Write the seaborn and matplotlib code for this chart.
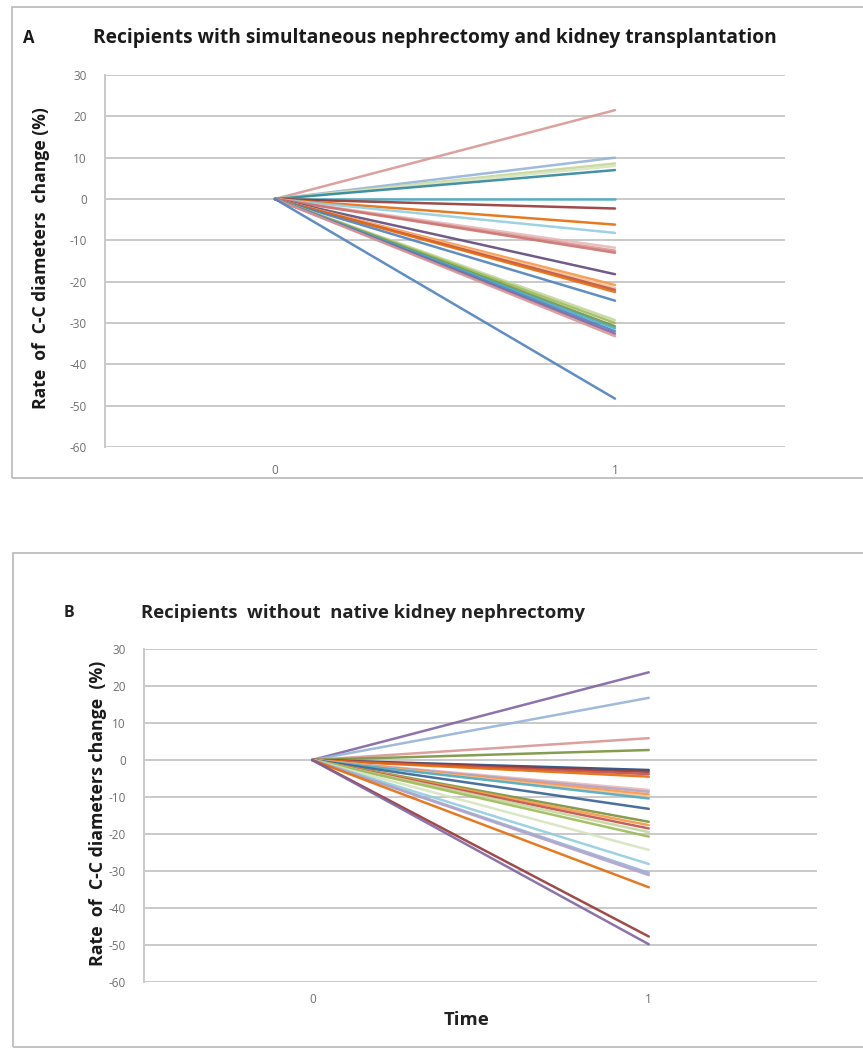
import matplotlib
matplotlib.use("Agg")
import matplotlib.pyplot as plt
import seaborn as sns
import pandas as pd
from matplotlib.patches import Rectangle

# ---------------- data ----------------
time_points = [0, 1]
time_labels = ["0", "1"]
y_ticks = [30, 20, 10, 0, -10, -20, -30, -40, -50, -60]

# Panel A: recipients with simultaneous nephrectomy and kidney transplantation
a_time0 = [0, 0, 0, 0, 0, 0, 0, 0, 0, 0, 0, 0, 0,
           0, 0, 0, 0, 0, 0, 0, 0, 0, 0, 0, 0, 0]
a_time1 = [21.5, 10.0, 8.6, 8.0, 7.0, 0.0, -2.3, -6.2, -8.2, -11.8, -12.5, -13.0, -18.2,
           -20.8, -21.5, -22.0, -22.5, -24.6, -29.3, -30.0, -30.8, -31.3, -32.0, -32.6, -33.2, -48.3]
a_colors = ["#D99795", "#95B3D7", "#C3D69B", "#D7E4BD", "#31859C", "#4BACC6", "#953735",
            "#E46C0A", "#93CDDD", "#E6B9B8", "#D99694", "#CD7371", "#604A7B",
            "#F79646", "#FAC090", "#C0504D", "#E46C0A", "#4F81BD", "#C3D69B", "#9BBB59",
            "#77933C", "#4BACC6", "#4F81BD", "#8064A2", "#D99694", "#4F81BD"]

# Panel B: recipients without native kidney nephrectomy
b_time0 = [0, 0, 0, 0, 0, 0, 0, 0, 0, 0, 0, 0, 0,
           0, 0, 0, 0, 0, 0, 0, 0, 0, 0, 0, 0, 0]
b_time1 = [23.7, 16.8, 5.9, 2.7, -2.7, -3.2, -3.8, -4.5, -8.1, -8.6, -9.3, -9.9, -10.4,
           -13.2, -16.7, -17.6, -18.5, -19.5, -20.7, -24.3, -28.1, -30.5, -31.1, -34.4, -47.7, -49.8]
b_colors = ["#8064A2", "#95B3D7", "#D99694", "#77933C", "#1F497D", "#953735", "#C0504D",
            "#E46C0A", "#E6B9B8", "#B3A2C7", "#F79646", "#FAC090", "#4BACC6",
            "#376092", "#77933C", "#F79646", "#C0504D", "#C3D69B", "#9BBB59", "#D7E4BD",
            "#93CDDD", "#95B3D7", "#B3A2C7", "#E46C0A", "#953735", "#8064A2"]

title_a = "Recipients with simultaneous nephrectomy and kidney transplantation"
title_b = "Recipients  without  native kidney nephrectomy"
ylabel_a = "Rate  of  C-C diameters  change (%)"
ylabel_b = "Rate  of  C-C diameters change  (%)"
xlabel_b = "Time"


def long_frame(t0, t1):
    rows = []
    for i, (v0, v1) in enumerate(zip(t0, t1)):
        rows.append({"series": f"s{i}", "time": time_points[0], "value": v0})
        rows.append({"series": f"s{i}", "time": time_points[1], "value": v1})
    return pd.DataFrame(rows)


df_a = long_frame(a_time0, a_time1)
df_b = long_frame(b_time0, b_time1)

# ---------------- style ----------------
sns.set_theme(style="white")
plt.rcParams["font.family"] = ["Open Sans", "DejaVu Sans"]

W, H = 863, 1049
fig = plt.figure(figsize=(W / 100, H / 100), dpi=100)

GRID = "#C9C9C9"
TICK = "#707070"
TXT = "#1A1A1A"


def px_axes(left, right, top, bottom):
    return fig.add_axes([left / W, 1 - bottom / H, (right - left) / W, (bottom - top) / H])


def style_axes(ax, df, colors, ypad, xpad, tsize):
    order = [f"s{i}" for i in range(len(colors))]
    sns.lineplot(data=df, x="time", y="value", hue="series", hue_order=order,
                 palette=colors, legend=False, linewidth=1.8, alpha=0.9, ax=ax, zorder=3)
    ax.set_xlim(-0.5, 1.5)
    ax.set_ylim(-60, 30)
    ax.set_yticks(y_ticks)
    ax.set_yticklabels([str(t) for t in y_ticks])
    ax.set_xticks(time_points)
    ax.set_xticklabels(time_labels)
    for t in y_ticks:
        ax.axhline(t, color=GRID, lw=1.4, zorder=1)
    for s in ["top", "right", "bottom"]:
        ax.spines[s].set_visible(False)
    ax.spines["left"].set_color(GRID)
    ax.spines["left"].set_linewidth(1.4)
    ax.tick_params(axis="y", length=0, pad=ypad, labelsize=tsize, labelcolor=TICK)
    ax.tick_params(axis="x", length=0, pad=xpad, labelsize=tsize, labelcolor=TICK)
    ax.set_xlabel("")
    ax.set_ylabel("")


# Frames
fig.patches.append(Rectangle((12 / W, 1 - 478 / H), (870 - 12) / W, (478 - 7) / H,
                             transform=fig.transFigure, fill=False, edgecolor="#BDBDBD", lw=1.3))
fig.patches.append(Rectangle((13 / W, 1 - 1047 / H), (870 - 13) / W, (1047 - 553) / H,
                             transform=fig.transFigure, fill=False, edgecolor="#BDBDBD", lw=1.3))

# Panel A
ax_a = px_axes(105, 785, 75, 447)
style_axes(ax_a, df_a, a_colors, ypad=13, xpad=12, tsize=8.5)
fig.text(23 / W, 1 - 38 / H, "A", fontsize=12, fontweight="bold", va="center", ha="left", color=TXT)
fig.text(93 / W, 1 - 38 / H, title_a, fontsize=13.8, fontweight="bold", va="center", ha="left", color=TXT)
fig.text(41 / W, 1 - 258 / H, ylabel_a, fontsize=12.6, fontweight="bold", rotation=90,
         va="center", ha="center", color=TXT)

# Panel B
ax_b = px_axes(144, 817, 649, 982)
style_axes(ax_b, df_b, b_colors, ypad=13, xpad=8, tsize=8.5)
fig.text(64 / W, 1 - 613 / H, "B", fontsize=11.5, fontweight="bold", va="center", ha="left", color="#222222")
fig.text(141 / W, 1 - 613 / H, title_b, fontsize=13.3, fontweight="bold", va="center", ha="left", color="#222222")
fig.text(98 / W, 1 - 813 / H, ylabel_b, fontsize=12.8, fontweight="bold", rotation=90,
         va="center", ha="center", color=TXT)
fig.text(466 / W, 1 - 1020 / H, xlabel_b, fontsize=13.3, fontweight="bold", va="center", ha="center", color="#222222")

fig.savefig("out.png", dpi=100, facecolor="white")
